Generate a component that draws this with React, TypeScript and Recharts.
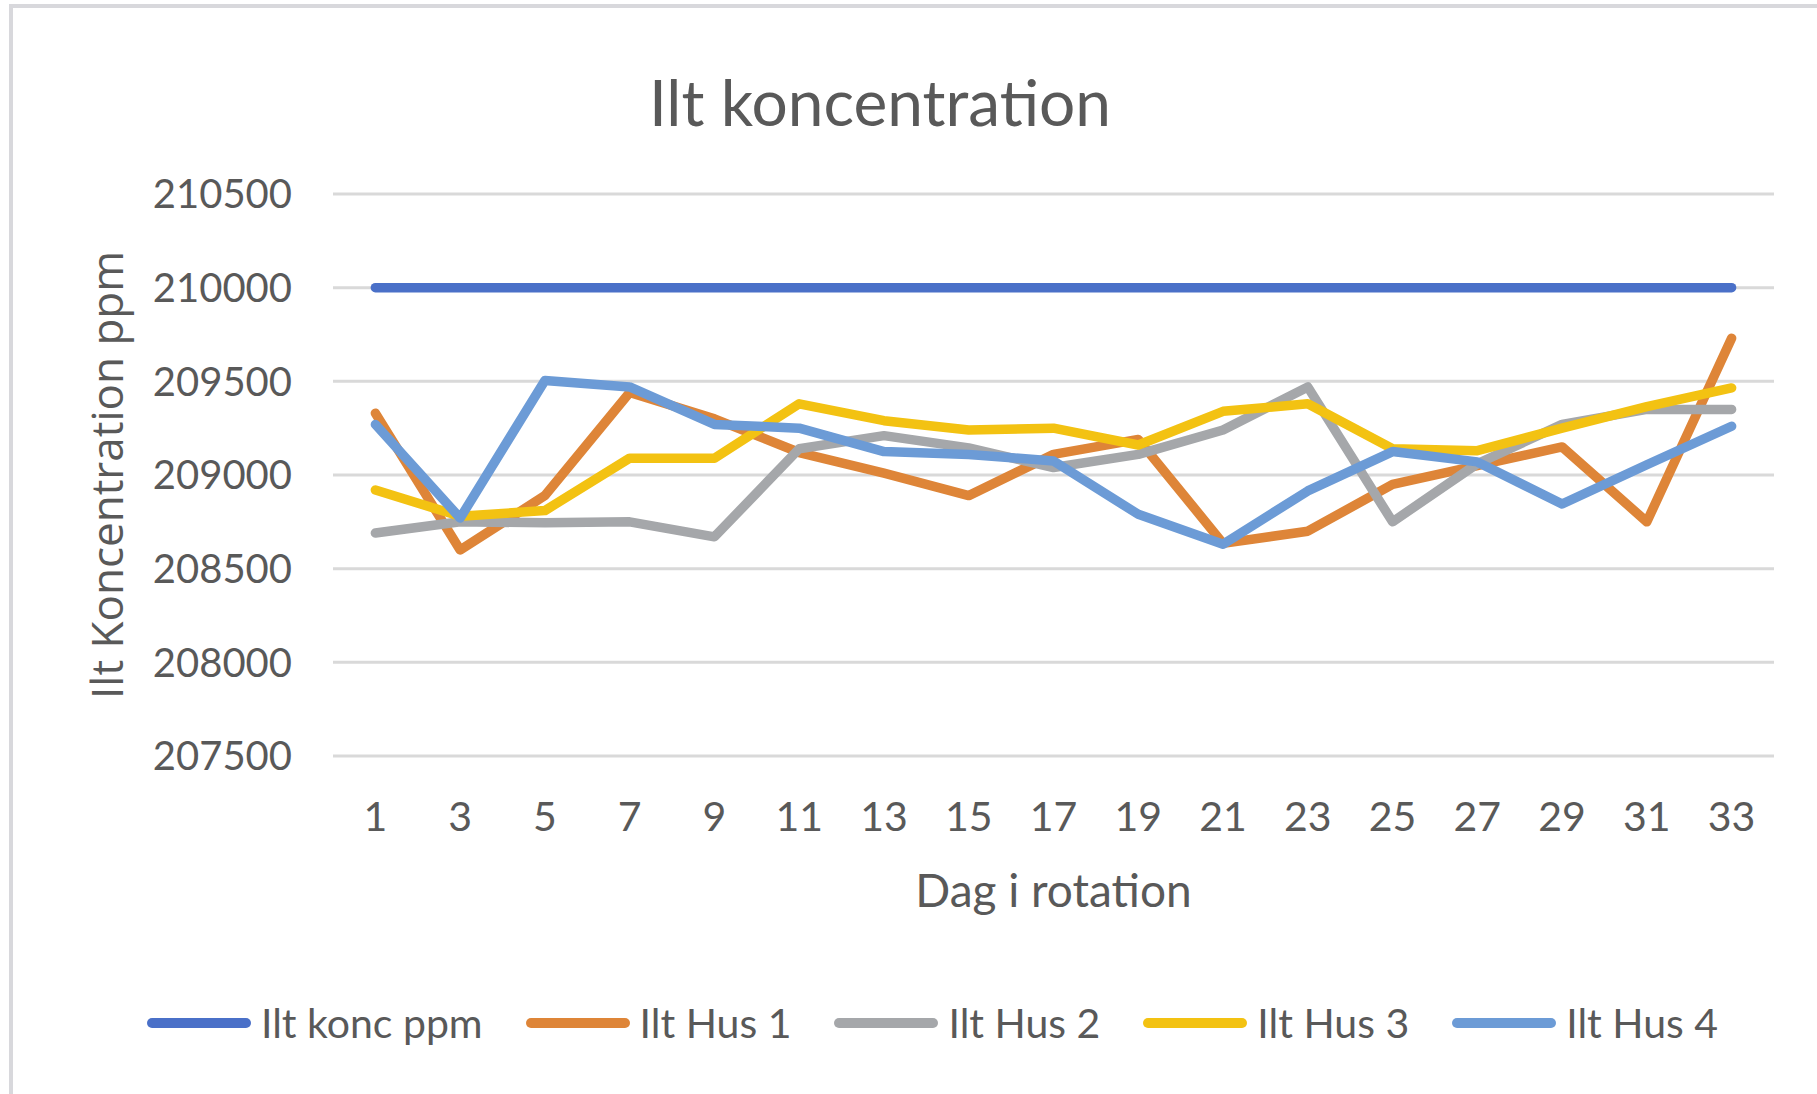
import React from 'react';
import { LineChart, Line, XAxis, YAxis, CartesianGrid, Legend } from 'recharts';

const days = ['1', '3', '5', '7', '9', '11', '13', '15', '17', '19', '21', '23', '25', '27', '29', '31', '33'];
const iltKonc = [210000, 210000, 210000, 210000, 210000, 210000, 210000, 210000, 210000, 210000, 210000, 210000, 210000, 210000, 210000, 210000, 210000];
const hus1 = [209330, 208600, 208890, 209440, 209300, 209120, 209010, 208890, 209110, 209190, 208635, 208700, 208950, 209050, 209150, 208750, 209730];
const hus2 = [208690, 208750, 208745, 208750, 208670, 209140, 209210, 209145, 209040, 209110, 209240, 209470, 208750, 209060, 209270, 209350, 209350];
const hus3 = [208920, 208780, 208810, 209090, 209090, 209380, 209290, 209240, 209250, 209160, 209340, 209380, 209140, 209130, 209250, 209365, 209465];
const hus4 = [209270, 208770, 209505, 209470, 209270, 209250, 209125, 209110, 209075, 208790, 208630, 208915, 209125, 209070, 208845, 209055, 209260];
const yTicks = [207500, 208000, 208500, 209000, 209500, 210000, 210500];

const seriesNames = ['Ilt konc ppm', 'Ilt Hus 1', 'Ilt Hus 2', 'Ilt Hus 3', 'Ilt Hus 4'];
const seriesKeys = ['konc', 'h1', 'h2', 'h3', 'h4'];
const seriesColors = ['#4A70C8', '#DE8538', '#A5A7AA', '#F3C212', '#6C9BD6'];

const data = days.map((d, i) => ({
  day: d,
  konc: iltKonc[i],
  h1: hus1[i],
  h2: hus2[i],
  h3: hus3[i],
  h4: hus4[i],
}));

const TEXT = '#595959';
const LATO = 'Lato, "Noto Sans", sans-serif';

const LegendContent = (props: any) => {
  const payload = [...(props.payload || [])].sort(
    (a: any, b: any) => seriesNames.indexOf(a.value) - seriesNames.indexOf(b.value)
  );
  return (
    <div style={{ display: 'flex', alignItems: 'center', paddingLeft: 147 }}>
      {payload.map((p: any, i: number) => (
        <div key={i} style={{ display: 'flex', alignItems: 'center', marginRight: 43 }}>
          <svg width={104} height={12} style={{ display: 'block' }}>
            <line x1={5} y1={6} x2={99} y2={6} stroke={p.color} strokeWidth={10} strokeLinecap="round" />
          </svg>
          <span style={{ marginLeft: 10, fontFamily: LATO, fontSize: 41, color: TEXT, lineHeight: '50px' }}>{p.value}</span>
        </div>
      ))}
    </div>
  );
};

export default function App() {
  return (
    <div style={{ position: 'fixed', left: 0, top: 0, width: 1817, height: 1094, overflow: 'hidden', background: '#fff' }}>
      <div style={{ position: 'absolute', left: 9, top: 4, width: 1817, height: 1094, borderLeft: '4px solid #D8D8DC', borderTop: '4px solid #D8D8DC', boxSizing: 'border-box' }} />
      <div style={{ position: 'absolute', left: 0, width: 1760, top: 62, textAlign: 'center', fontFamily: LATO, fontSize: 64, color: TEXT, lineHeight: '80px' }}>
        Ilt koncentration
      </div>
      <div style={{ position: 'absolute', left: 0, top: 0 }}>
        <LineChart width={1817} height={1094} data={data} margin={{ top: 194, right: 43, bottom: 278, left: 0 }}>
          <CartesianGrid vertical={false} stroke="#D9D9D9" strokeWidth={3} />
          <XAxis
            dataKey="day"
            type="category"
            interval={0}
            axisLine={false}
            tickLine={false}
            tickSize={0}
            tickMargin={46}
            height={60}
            padding={{ left: 42.4, right: 42.4 }}
            tick={{ fill: TEXT, fontSize: 41, fontFamily: LATO }}
            label={{
              content: (lp: any) => {
                const vb = lp.viewBox;
                return (
                  <text x={vb.x + vb.width / 2} y={vb.y + 151} textAnchor="middle" fill={TEXT} fontSize={46} fontFamily={LATO}>
                    Dag i rotation
                  </text>
                );
              },
            }}
          />
          <YAxis
            domain={[207500, 210500]}
            ticks={yTicks}
            interval={0}
            axisLine={false}
            tickLine={false}
            tickSize={0}
            tickMargin={41}
            width={333}
            tick={{ fill: TEXT, fontSize: 40, fontFamily: LATO }}
            label={{
              content: (lp: any) => {
                const vb = lp.viewBox;
                const cx = 123;
                const cy = vb.y + vb.height / 2;
                return (
                  <text x={cx} y={cy} transform={`rotate(-90, ${cx}, ${cy})`} textAnchor="middle" fill={TEXT} fontSize={44} fontFamily={'"Open Sans", sans-serif'}>
                    Ilt Koncentration ppm
                  </text>
                );
              },
            }}
          />
          <Legend
            layout="horizontal"
            verticalAlign="middle"
            align="center"
            itemSorter={null as any}
            wrapperStyle={{ left: 0, top: 998, width: 1817, height: 50 }}
            content={LegendContent}
          />
          {seriesKeys.map((k, i) => (
            <Line
              key={k}
              dataKey={k}
              name={seriesNames[i]}
              stroke={seriesColors[i]}
              strokeWidth={9.5}
              strokeLinecap="round"
              strokeLinejoin="round"
              dot={false}
              activeDot={false}
              isAnimationActive={false}
              type="linear"
            />
          ))}
        </LineChart>
      </div>
    </div>
  );
}
